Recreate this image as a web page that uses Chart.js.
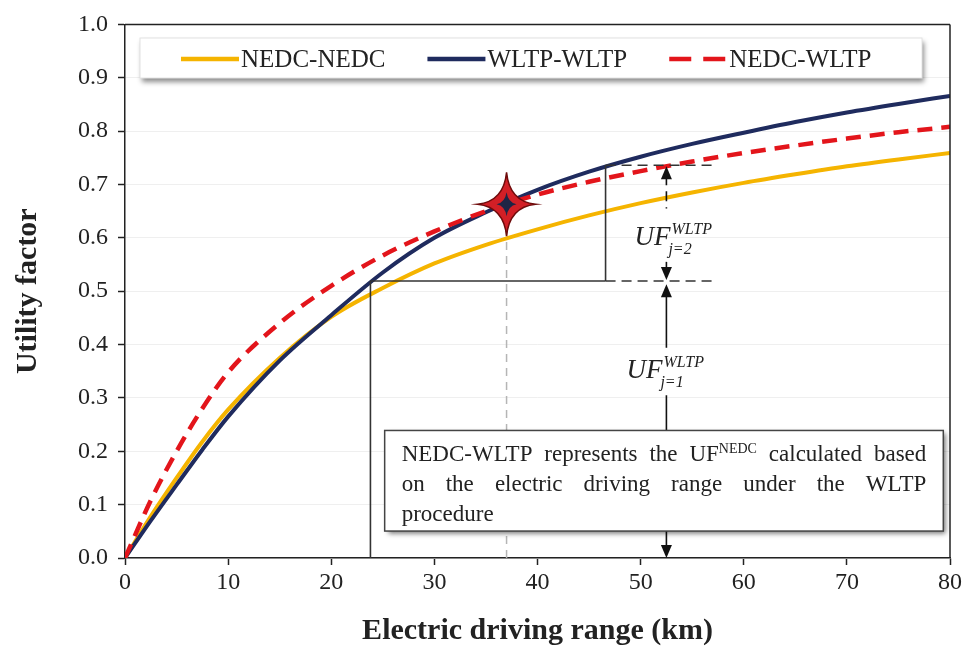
<!DOCTYPE html>
<html>
<head>
<meta charset="utf-8">
<script src="https://cdn.jsdelivr.net/npm/chart.js@4.4.1/dist/chart.umd.min.js"></script>
<style>
  html, body { margin: 0; padding: 0; background: #fff; }
  canvas { display: block; }
</style>
</head>
<body>
<canvas id="ufChart" width="965" height="649"></canvas>
<script>
// Values
const rangeKm  = [0, 2.5, 5, 7.5, 10, 15, 20, 25, 30, 35, 40, 45, 50, 55, 60, 65, 70, 75, 80];
const nedcNedc = [0, 0.078, 0.150, 0.218, 0.278, 0.375, 0.452, 0.506, 0.552, 0.587, 0.616, 0.642, 0.665, 0.685, 0.703, 0.719, 0.734, 0.747, 0.759];
const wltpWltp = [0, 0.070, 0.137, 0.203, 0.265, 0.370, 0.455, 0.535, 0.600, 0.648, 0.690, 0.724, 0.752, 0.776, 0.797, 0.817, 0.835, 0.851, 0.866];
const nedcWltp = [0, 0.108, 0.200, 0.280, 0.348, 0.440, 0.510, 0.567, 0.612, 0.650, 0.681, 0.705, 0.725, 0.743, 0.759, 0.773, 0.786, 0.798, 0.808];
const seriesNames = ['NEDC-NEDC', 'WLTP-WLTP', 'NEDC-WLTP'];

const kmTicks = [0, 10, 20, 30, 40, 50, 60, 70, 80];
const ufTicks = [0, 0.1, 0.2, 0.3, 0.4, 0.5, 0.6, 0.7, 0.8, 0.9, 1.0];

// annotation anchors
const starKm = 37, starUF = 0.663;
const j1Km = 23.8, j1UF = 0.519;
const j2Km = 46.6, j2UF = 0.736;
const arrowKm = 52.5, guideEndKm = 57;
const noteLines = [
  'NEDC-WLTP represents the UF^NEDC calculated based',
  'on the electric driving range under the WLTP',
  'procedure'
];

const SERIF = "'Liberation Serif', 'Times New Roman', serif";
const INK = '#222';

function toPoints(ys) {
  return rangeKm.map((x, i) => ({ x: x, y: ys[i] }));
}

function arrowHead(ctx, x, tipY, dir) {
  // dir -1: points up, 1: points down
  ctx.beginPath();
  ctx.moveTo(x, tipY);
  ctx.lineTo(x - 5.5, tipY - dir * 13);
  ctx.lineTo(x + 5.5, tipY - dir * 13);
  ctx.closePath();
  ctx.fill();
}

function line(ctx, x1, y1, x2, y2) {
  ctx.beginPath();
  ctx.moveTo(x1, y1);
  ctx.lineTo(x2, y2);
  ctx.stroke();
}

function star4(ctx, cx, cy, rx, ry, r) {
  ctx.beginPath();
  ctx.moveTo(cx, cy - ry);
  ctx.quadraticCurveTo(cx + r * 0.4, cy - r * 0.4, cx + rx, cy);
  ctx.quadraticCurveTo(cx + r * 0.4, cy + r * 0.4, cx, cy + ry);
  ctx.quadraticCurveTo(cx - r * 0.4, cy + r * 0.4, cx - rx, cy);
  ctx.quadraticCurveTo(cx - r * 0.4, cy - r * 0.4, cx, cy - ry);
  ctx.closePath();
}

// UF label with super/subscript
function ufLabel(ctx, x, base, sub) {
  ctx.fillStyle = INK;
  ctx.textBaseline = 'alphabetic';
  ctx.textAlign = 'left';
  ctx.font = 'italic 27px ' + SERIF;
  ctx.fillText('UF', x, base);
  const w = ctx.measureText('UF').width;
  ctx.font = 'italic 16px ' + SERIF;
  ctx.fillText('WLTP', x + w + 1, base - 11);
  ctx.fillText(sub, x + w - 2, base + 9);
}

function wordWidth(ctx, word) {
  if (word.includes('^')) {
    const [b, s] = word.split('^');
    ctx.font = '23px ' + SERIF;
    const wb = ctx.measureText(b).width;
    ctx.font = '14px ' + SERIF;
    return wb + ctx.measureText(s).width;
  }
  ctx.font = '23px ' + SERIF;
  return ctx.measureText(word).width;
}

function drawWord(ctx, word, x, base) {
  if (word.includes('^')) {
    const [b, s] = word.split('^');
    ctx.font = '23px ' + SERIF;
    ctx.fillText(b, x, base);
    const wb = ctx.measureText(b).width;
    ctx.font = '14px ' + SERIF;
    ctx.fillText(s, x + wb, base - 8);
    return;
  }
  ctx.font = '23px ' + SERIF;
  ctx.fillText(word, x, base);
}

const annotations = {
  id: 'annotations',
  beforeDatasetsDraw(chart) {
    const { ctx, scales: { x, y } } = chart;
    ctx.save();
    // light grey dashed drop line below the star
    ctx.strokeStyle = '#b5b5b5';
    ctx.lineWidth = 1.5;
    ctx.setLineDash([8, 6]);
    line(ctx, x.getPixelForValue(starKm), y.getPixelForValue(0), x.getPixelForValue(starKm), y.getPixelForValue(starUF));
    ctx.restore();
  },
  afterDatasetsDraw(chart) {
    const { ctx, chartArea: a, scales: { x, y } } = chart;
    ctx.save();

    // frame top / right
    ctx.strokeStyle = '#222';
    ctx.lineWidth = 1.5;
    line(ctx, a.left, a.top, a.right, a.top);
    line(ctx, a.right, a.top, a.right, a.bottom);

    const px1 = x.getPixelForValue(j1Km), py1 = y.getPixelForValue(j1UF);
    const px2 = x.getPixelForValue(j2Km), py2 = y.getPixelForValue(j2UF);
    const pEnd = x.getPixelForValue(guideEndKm);
    const pa = x.getPixelForValue(arrowKm);
    const p0 = y.getPixelForValue(0);

    // solid guides
    ctx.strokeStyle = '#333';
    ctx.lineWidth = 1.6;
    line(ctx, px1, p0, px1, py1);
    line(ctx, px1, py1, px2, py1);
    line(ctx, px2, py1, px2, py2);

    // dashed guides to the arrow
    ctx.setLineDash([10, 6]);
    line(ctx, px2, py1, pEnd, py1);
    line(ctx, px2, py2, pEnd, py2);

    // arrow j=2
    ctx.strokeStyle = '#111';
    ctx.fillStyle = '#111';
    ctx.lineWidth = 1.6;
    line(ctx, pa, py2 + 10, pa, y.getPixelForValue(0.655));
    ctx.setLineDash([]);
    arrowHead(ctx, pa, py2 + 1, -1);
    line(ctx, pa, y.getPixelForValue(0.555), pa, py1 - 8);
    arrowHead(ctx, pa, py1 - 1, 1);

    // arrow j=1
    const pj1 = y.getPixelForValue(0.513);
    arrowHead(ctx, pa, pj1, -1);
    line(ctx, pa, pj1 + 8, pa, y.getPixelForValue(0.394));
    line(ctx, pa, y.getPixelForValue(0.305), pa, p0 - 8);
    arrowHead(ctx, pa, p0, 1);

    ufLabel(ctx, pa - 32, y.getPixelForValue(0.587), 'j=2');
    ufLabel(ctx, pa - 40, y.getPixelForValue(0.338), 'j=1');

    // star marker
    const sx = x.getPixelForValue(starKm), sy = y.getPixelForValue(starUF);
    ctx.fillStyle = '#d21f26';
    ctx.strokeStyle = '#6e0b0b';
    ctx.lineWidth = 1.5;
    star4(ctx, sx, sy, 29, 32, 7);
    ctx.fill();
    ctx.stroke();
    ctx.fillStyle = '#1d2545';
    star4(ctx, sx, sy, 10, 12, 4);
    ctx.fill();

    // note box
    const bx1 = x.getPixelForValue(25.18), bx2 = x.getPixelForValue(79.35);
    const by1 = y.getPixelForValue(0.239), by2 = y.getPixelForValue(0.0505);
    ctx.save();
    ctx.shadowColor = 'rgba(0,0,0,0.55)';
    ctx.shadowBlur = 5;
    ctx.shadowOffsetX = 3;
    ctx.shadowOffsetY = 3;
    ctx.fillStyle = '#fff';
    ctx.fillRect(bx1, by1, bx2 - bx1, by2 - by1);
    ctx.restore();
    ctx.strokeStyle = '#444';
    ctx.lineWidth = 1.5;
    ctx.strokeRect(bx1, by1, bx2 - bx1, by2 - by1);

    ctx.fillStyle = INK;
    ctx.textBaseline = 'alphabetic';
    ctx.textAlign = 'left';
    const tl = bx1 + 17, tr = bx2 - 17;
    noteLines.forEach((ln, i) => {
      const words = ln.split(' ');
      const base = by1 + 31 + i * 30;
      const widths = words.map(w => wordWidth(ctx, w));
      const total = widths.reduce((s, w) => s + w, 0);
      const last = i === noteLines.length - 1;
      const gap = last ? 6 : (tr - tl - total) / (words.length - 1);
      let cx = tl;
      words.forEach((w, k) => {
        drawWord(ctx, w, cx, base);
        cx += widths[k] + gap;
      });
    });

    // legend box
    const lx1 = 140, lx2 = 922, ly1 = 38, ly2 = 78;
    ctx.save();
    ctx.shadowColor = 'rgba(0,0,0,0.45)';
    ctx.shadowBlur = 5;
    ctx.shadowOffsetX = 2;
    ctx.shadowOffsetY = 4;
    ctx.fillStyle = '#fff';
    ctx.fillRect(lx1, ly1, lx2 - lx1, ly2 - ly1);
    ctx.restore();
    ctx.strokeStyle = '#e2e2e2';
    ctx.lineWidth = 1;
    ctx.strokeRect(lx1, ly1, lx2 - lx1, ly2 - ly1);

    let lx = 181;
    const ly = 59;
    ctx.font = '25px ' + SERIF;
    ctx.textBaseline = 'middle';
    chart.data.datasets.forEach(ds => {
      ctx.strokeStyle = ds.borderColor;
      ctx.lineWidth = 4.5;
      ctx.setLineDash(ds.borderDash && ds.borderDash.length ? [22, 12] : []);
      line(ctx, lx, ly, lx + 58, ly);
      ctx.setLineDash([]);
      ctx.fillStyle = INK;
      ctx.fillText(ds.label, lx + 60, ly + 1);
      lx += 60 + ctx.measureText(ds.label).width + 42;
    });

    ctx.restore();
  }
};

const ctx = document.getElementById('ufChart').getContext('2d');

new Chart(ctx, {
  type: 'line',
  data: {
    datasets: [
      {
        label: seriesNames[0],
        data: toPoints(nedcNedc),
        borderColor: '#f5b400',
        borderWidth: 4,
        order: 2
      },
      {
        label: seriesNames[1],
        data: toPoints(wltpWltp),
        borderColor: '#1f2b5e',
        borderWidth: 4,
        order: 1
      },
      {
        label: seriesNames[2],
        data: toPoints(nedcWltp),
        borderColor: '#e3151b',
        borderWidth: 4.5,
        borderDash: [15, 9],
        order: 0
      }
    ]
  },
  options: {
    responsive: false,
    animation: false,
    devicePixelRatio: 1,
    elements: {
      point: { radius: 0 },
      line: { cubicInterpolationMode: 'monotone', fill: false, borderCapStyle: 'butt' }
    },
    layout: { padding: { left: 0, right: 13, top: 22, bottom: 0 } },
    scales: {
      x: {
        type: 'linear',
        min: 0,
        max: 80,
        afterBuildTicks: s => { s.ticks = kmTicks.map(v => ({ value: v })); },
        afterFit: s => { s.height = 91; },
        grid: { drawOnChartArea: false, tickLength: 7, tickColor: '#222', tickWidth: 1.5 },
        border: { color: '#222', width: 1.5 },
        ticks: {
          color: INK,
          padding: 3,
          font: { family: SERIF, size: 24 },
          maxRotation: 0
        },
        title: {
          display: true,
          text: 'Electric driving range (km)',
          color: INK,
          font: { family: SERIF, size: 30, weight: 'bold' },
          padding: { top: 0, bottom: 0 }
        }
      },
      y: {
        min: 0,
        max: 1,
        afterBuildTicks: s => { s.ticks = ufTicks.map(v => ({ value: v })); },
        afterFit: s => { s.width = 125; },
        grid: { color: '#efefef', lineWidth: 1, tickLength: 7, tickColor: '#222', tickWidth: 1.5 },
        border: { color: '#222', width: 1.5 },
        ticks: {
          color: INK,
          padding: 10,
          font: { family: SERIF, size: 24 },
          callback: v => v.toFixed(1)
        },
        title: {
          display: true,
          text: 'Utility factor',
          color: INK,
          font: { family: SERIF, size: 30, weight: 'bold' },
          padding: { top: 10, bottom: 0 }
        }
      }
    },
    plugins: {
      legend: { display: false },
      tooltip: { enabled: false }
    }
  },
  plugins: [annotations]
});
</script>
</body>
</html>
